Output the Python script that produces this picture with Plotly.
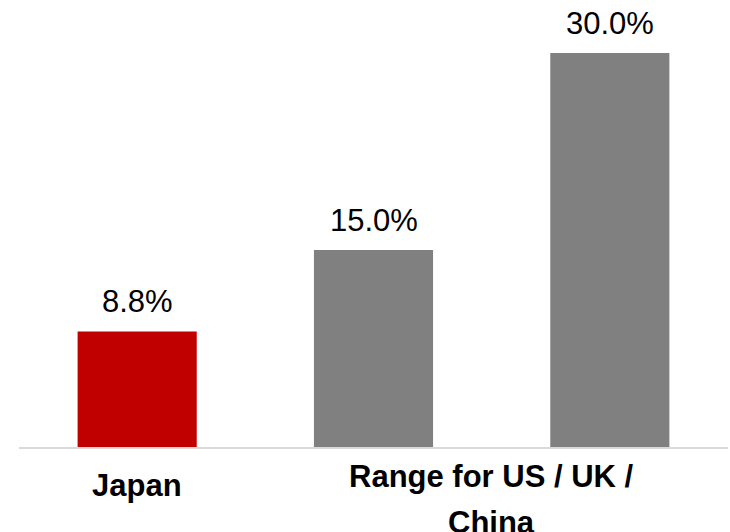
import plotly.graph_objects as go

categories = ["Japan", "Range for US / UK / China (low)", "Range for US / UK / China (high)"]
values = [8.8, 15.0, 30.0]
value_labels = ["8.8%", "15.0%", "30.0%"]
colors = ["#C00000", "#808080", "#808080"]
group_labels = ["Japan", "Range for US / UK /", "China"]

xpos = [0, 1, 2]

fig = go.Figure()
fig.add_trace(go.Bar(
    x=xpos, y=values, marker=dict(color=colors, line=dict(width=0)),
    width=0.504, hoverinfo="skip", showlegend=False,
))

font_main = "Liberation Sans, Arial, sans-serif"
for xi, v, lab in zip(xpos, values, value_labels):
    fig.add_annotation(x=xi, y=v, xref="x", yref="y", text=lab, showarrow=False,
                       yanchor="bottom", yshift=10,
                       font=dict(family=font_main, size=31, color="#000000"))

# category labels
fig.add_annotation(x=0, y=0, xref="x", yref="paper", text="<b>" + group_labels[0] + "</b>",
                   showarrow=False, yanchor="top", yshift=-19,
                   font=dict(family=font_main, size=31, color="#000000"))
fig.add_annotation(x=1.5, y=0, xref="x", yref="paper", text="<b>" + group_labels[1] + "</b>",
                   showarrow=False, yanchor="top", yshift=-10,
                   font=dict(family=font_main, size=31, color="#000000"))
fig.add_annotation(x=1.5, y=0, xref="x", yref="paper", text="<b>" + group_labels[2] + "</b>",
                   showarrow=False, yanchor="top", yshift=-56,
                   font=dict(family=font_main, size=31, color="#000000"))

fig.update_layout(
    width=730, height=532,
    margin=dict(l=19, r=2, t=20, b=85),
    paper_bgcolor="white", plot_bgcolor="white",
    xaxis=dict(range=[-0.5, 2.5], showticklabels=False, showgrid=False, zeroline=False,
               showline=True, linecolor="#d9d9d9", linewidth=2, ticks=""),
    yaxis=dict(range=[0, 32.51], visible=False, showgrid=False, zeroline=False),
)

fig.write_html("out.html")
